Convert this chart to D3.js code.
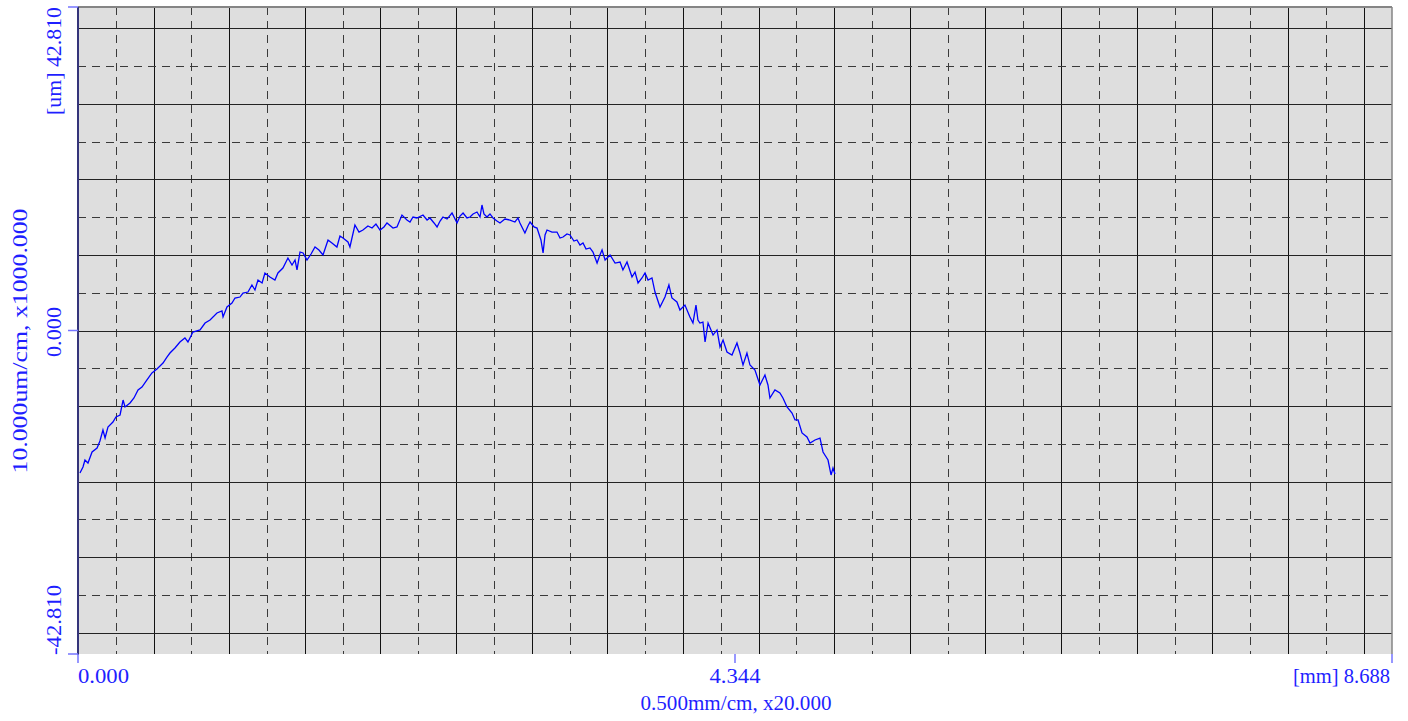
<!DOCTYPE html>
<html lang="en">
<head>
<meta charset="utf-8">
<title>Profile</title>
<script src="https://cdn.jsdelivr.net/npm/d3@7"></script>
<style>
  body { margin: 0; background: #fff; }
  text { font-family: "Liberation Serif", "DejaVu Serif", serif; fill: #1f1fff; }
</style>
</head>
<body>
<script type="text/javascript">

var width = 1408;
var height = 721;

// axis range
var xMax = 8.688;
var yMax = 42.81;

var xTickValues = [0, 4.344, 8.688];
var xTickLabels = ["0.000", "4.344", "[mm] 8.688"];
var yTickValues = [42.81, 0, -42.81];
var yTickLabels = ["[um] 42.810", "0.000", "-42.810"];
var xTitle = "0.500mm/cm, x20.000";
var yTitle = "10.000um/cm, x1000.000";

// measured profile, position [mm]
var profX = [0.013, 0.033, 0.046, 0.066, 0.093, 0.126, 0.145, 0.165, 0.179, 0.198,
  0.231, 0.251, 0.278, 0.298, 0.311, 0.344, 0.370, 0.397, 0.423, 0.456,
  0.489, 0.522, 0.562, 0.588, 0.608, 0.641, 0.674, 0.707, 0.727, 0.760,
  0.807, 0.840, 0.873, 0.919, 0.952, 0.959, 0.985, 1.018, 1.038, 1.071,
  1.091, 1.124, 1.150, 1.170, 1.190, 1.217, 1.236, 1.269, 1.302, 1.322,
  1.355, 1.388, 1.415, 1.435, 1.448, 1.468, 1.488, 1.514, 1.541, 1.567,
  1.593, 1.620, 1.653, 1.679, 1.712, 1.732, 1.752, 1.785, 1.798, 1.831,
  1.858, 1.884, 1.917, 1.944, 1.970, 1.997, 2.023, 2.043, 2.083, 2.109,
  2.142, 2.175, 2.195, 2.215, 2.241, 2.281, 2.308, 2.327, 2.354, 2.374,
  2.394, 2.413, 2.440, 2.473, 2.493, 2.506, 2.526, 2.546, 2.572, 2.592,
  2.612, 2.638, 2.658, 2.671, 2.684, 2.704, 2.724, 2.744, 2.770, 2.790,
  2.823, 2.856, 2.889, 2.909, 2.922, 2.955, 2.975, 2.989, 3.015, 3.035,
  3.061, 3.075, 3.088, 3.101, 3.134, 3.167, 3.187, 3.207, 3.233, 3.253,
  3.279, 3.299, 3.319, 3.339, 3.359, 3.385, 3.405, 3.432, 3.451, 3.465,
  3.485, 3.518, 3.551, 3.584, 3.603, 3.630, 3.663, 3.683, 3.703, 3.729,
  3.749, 3.769, 3.795, 3.815, 3.848, 3.881, 3.907, 3.927, 3.960, 3.980,
  4.013, 4.046, 4.066, 4.086, 4.099, 4.112, 4.132, 4.146, 4.166, 4.199,
  4.225, 4.245, 4.265, 4.291, 4.324, 4.357, 4.377, 4.397, 4.423, 4.443,
  4.476, 4.509, 4.542, 4.562, 4.575, 4.608, 4.641, 4.661, 4.688, 4.721,
  4.741, 4.761, 4.787, 4.820, 4.840, 4.873, 4.906, 4.926, 4.959, 4.979,
  4.992, 5.005];

// measured profile, height [um]
var profY = [-18.86, -18.06, -17.14, -17.53, -16.08, -15.55, -14.62, -13.17, -14.23, -12.77,
  -12.11, -11.45, -11.18, -9.20, -10.12, -9.59, -8.93, -7.87, -7.48, -6.55,
  -5.62, -5.09, -4.30, -3.51, -2.98, -2.32, -1.52, -0.99, -1.52, -0.20,
  0.07, 0.99, 1.39, 2.32, 2.58, 1.79, 3.11, 3.64, 4.30, 4.43,
  4.96, 5.09, 6.02, 5.36, 6.68, 6.29, 7.61, 7.08, 6.68, 7.61,
  8.27, 9.59, 8.67, 9.33, 8.01, 10.39, 10.26, 9.33, 10.12, 11.05,
  10.65, 9.99, 11.98, 11.58, 11.05, 12.51, 12.24, 11.71, 11.05, 13.96,
  13.03, 13.30, 13.83, 13.56, 14.09, 13.30, 13.70, 14.23, 13.56, 13.70,
  15.28, 14.62, 14.36, 15.02, 14.89, 15.28, 14.62, 14.89, 14.23, 13.70,
  14.49, 15.02, 14.75, 15.55, 14.75, 14.23, 15.15, 15.55, 14.89, 15.02,
  15.42, 15.68, 15.02, 16.61, 15.42, 15.02, 15.42, 14.89, 14.49, 14.23,
  14.75, 14.62, 14.36, 14.89, 14.23, 12.90, 13.83, 14.36, 13.70, 13.56,
  11.98, 10.26, 12.64, 13.30, 13.03, 13.03, 12.24, 12.37, 12.77, 12.64,
  11.84, 11.98, 11.31, 11.58, 10.78, 10.92, 10.39, 8.93, 9.99, 10.65,
  9.33, 9.99, 8.93, 9.06, 8.01, 9.06, 7.08, 7.74, 6.29, 6.95,
  7.61, 6.68, 6.95, 5.09, 3.11, 4.43, 6.02, 4.30, 3.77, 2.71,
  3.37, 1.79, 0.99, 3.37, 1.39, 0.99, 1.12, -1.52, 0.99, -0.60,
  0.07, -2.18, -1.26, -2.85, -3.24, -1.65, -2.98, -4.57, -2.98, -4.57,
  -5.23, -7.21, -5.89, -7.21, -8.93, -7.87, -8.27, -8.93, -10.12, -10.92,
  -11.84, -11.84, -13.56, -14.09, -14.89, -14.49, -14.23, -16.08, -17.14, -19.12,
  -18.20, -18.99];

var svg = d3.select("body").append("svg")
            .attr("width", width)
            .attr("height", height);

var x = d3.scaleLinear().domain([0, xMax]).range([78, 1392]);
var y = d3.scaleLinear().domain([-yMax, yMax]).range([654, 7]);

// plot background
svg.append("rect")
   .attr("x", x(0))
   .attr("y", y(yMax))
   .attr("width", x(xMax) - x(0))
   .attr("height", y(-yMax) - y(yMax))
   .attr("fill", "#dedede");

// grid: every 0.25 mm / 5 um, solid on the even ones
var xGrid = d3.range(1, 35).map(function(i) { return i * 0.25; });
var yGrid = d3.range(-8, 9).map(function(i) { return i * 5; });

function isMajor(v, step) { return Math.abs(Math.round(v / step) * step - v) < 1e-6; }

svg.selectAll("line.vgrid")
   .data(xGrid)
   .enter()
   .append("line")
   .attr("class", "vgrid")
   .attr("x1", function(d) { return Math.round(x(d)) + 0.5; })
   .attr("x2", function(d) { return Math.round(x(d)) + 0.5; })
   .attr("y1", y(yMax))
   .attr("y2", y(-yMax))
   .attr("stroke", function(d) { return isMajor(d, 0.5) ? "#111" : "#3a3a3a"; })
   .attr("stroke-width", 1)
   .attr("stroke-dasharray", function(d) { return isMajor(d, 0.5) ? null : "8,6"; });

svg.selectAll("line.hgrid")
   .data(yGrid)
   .enter()
   .append("line")
   .attr("class", "hgrid")
   .attr("x1", x(0))
   .attr("x2", x(xMax))
   .attr("y1", function(d) { return Math.round(y(d)) + 0.5; })
   .attr("y2", function(d) { return Math.round(y(d)) + 0.5; })
   .attr("stroke", function(d) { return isMajor(d, 10) ? "#222" : "#3a3a3a"; })
   .attr("stroke-width", 1)
   .attr("stroke-dasharray", function(d) { return isMajor(d, 10) ? null : "8,6"; });

// frame: gray top and right, dark left axis
svg.append("line")
   .attr("x1", x(0)).attr("x2", x(xMax))
   .attr("y1", y(yMax)).attr("y2", y(yMax))
   .attr("stroke", "#858585").attr("stroke-width", 2);
svg.append("line")
   .attr("x1", x(xMax)).attr("x2", x(xMax))
   .attr("y1", y(yMax)).attr("y2", y(-yMax))
   .attr("stroke", "#858585").attr("stroke-width", 1.5);
svg.append("line")
   .attr("x1", x(0)).attr("x2", x(0))
   .attr("y1", y(yMax)).attr("y2", y(-yMax) + 1)
   .attr("stroke", "#34347a").attr("stroke-width", 2);

// profile
var profile = profX.map(function(d, i) { return [d, profY[i]]; });
var line = d3.line()
             .x(function(d) { return x(d[0]); })
             .y(function(d) { return y(d[1]); });

svg.append("path")
   .datum(profile)
   .attr("d", line)
   .attr("fill", "none")
   .attr("stroke", "#0000ff")
   .attr("stroke-width", 1.3);

// ticks
var tickColor = "#7474ff";
svg.selectAll("line.ytick")
   .data(yTickValues)
   .enter()
   .append("line")
   .attr("x1", x(0) - 10).attr("x2", x(0))
   .attr("y1", function(d) { return y(d); })
   .attr("y2", function(d) { return y(d); })
   .attr("stroke", tickColor).attr("stroke-width", 1.5);

svg.selectAll("line.xtick")
   .data(xTickValues)
   .enter()
   .append("line")
   .attr("x1", function(d) { return x(d); })
   .attr("x2", function(d) { return x(d); })
   .attr("y1", y(-yMax)).attr("y2", y(-yMax) + 9)
   .attr("stroke", tickColor).attr("stroke-width", 1.5);

// x tick labels
var xLabelLen = [51, 51, 97];
svg.selectAll("text.xlabel")
   .data(xTickValues)
   .enter()
   .append("text")
   .attr("x", function(d, i) { return i == 2 ? x(d) - 2 : x(d); })
   .attr("y", 683)
   .attr("text-anchor", function(d, i) { return i == 0 ? "start" : (i == 2 ? "end" : "middle"); })
   .attr("font-size", 20)
   .attr("textLength", function(d, i) { return xLabelLen[i]; })
   .attr("lengthAdjust", "spacingAndGlyphs")
   .text(function(d, i) { return xTickLabels[i]; });

svg.append("text")
   .attr("x", x(xMax / 2) + 1)
   .attr("y", 710)
   .attr("text-anchor", "middle")
   .attr("font-size", 20)
   .attr("textLength", 191)
   .attr("lengthAdjust", "spacingAndGlyphs")
   .text(xTitle);

// y tick labels (rotated)
var yLabelPos = [{ y: 115, anchor: "start", len: 108 },
                 { y: 332, anchor: "middle", len: 50 },
                 { y: 655, anchor: "start", len: 70 }];
svg.selectAll("text.ylabel")
   .data(yTickValues)
   .enter()
   .append("text")
   .attr("transform", function(d, i) { return "translate(61," + yLabelPos[i].y + ") rotate(-90)"; })
   .attr("text-anchor", function(d, i) { return yLabelPos[i].anchor; })
   .attr("font-size", 20)
   .attr("textLength", function(d, i) { return yLabelPos[i].len; })
   .attr("lengthAdjust", "spacingAndGlyphs")
   .text(function(d, i) { return yTickLabels[i]; });

svg.append("text")
   .attr("transform", "translate(27,341) rotate(-90)")
   .attr("text-anchor", "middle")
   .attr("font-size", 20)
   .attr("textLength", 265)
   .attr("lengthAdjust", "spacingAndGlyphs")
   .text(yTitle);

</script>
</body>
</html>
